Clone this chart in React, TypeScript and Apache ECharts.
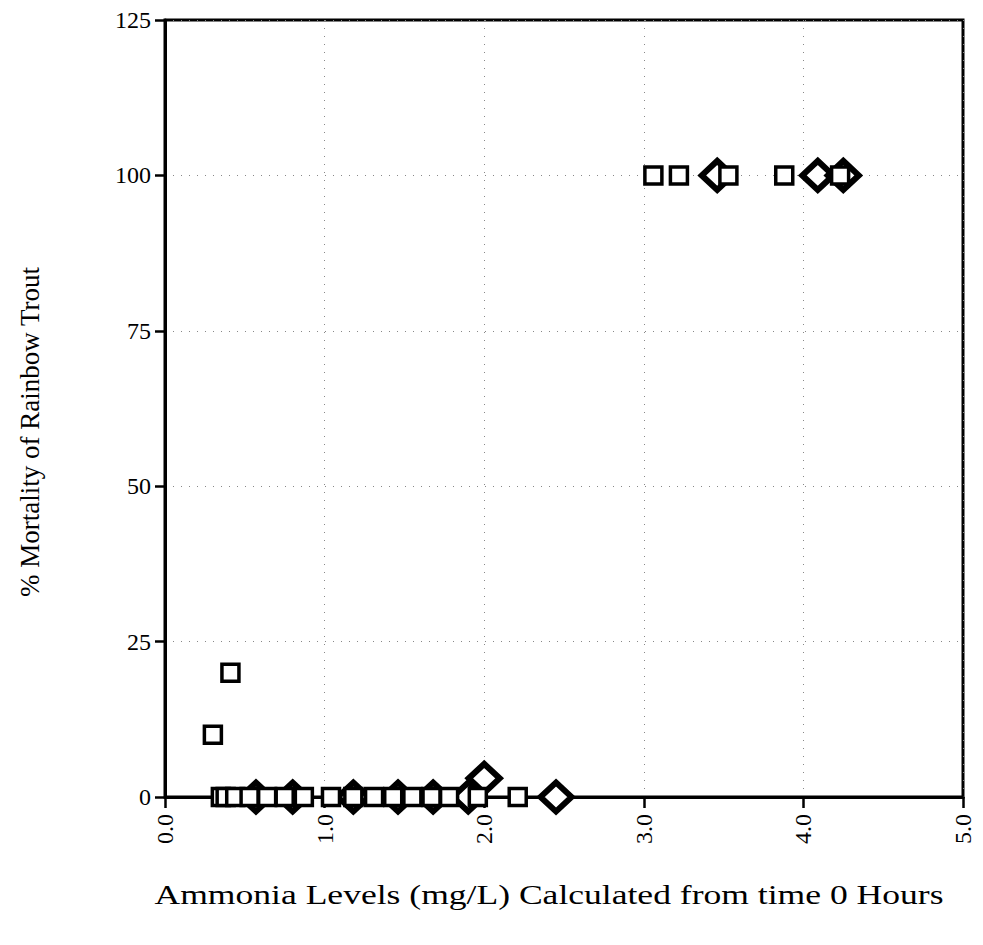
import React, { useEffect, useRef } from "react";
import * as echarts from "echarts";

const xTicks = [0, 1, 2, 3, 4, 5];
const yTicks = [0, 25, 50, 75, 100, 125];

const squareX = [0.30, 0.41, 0.35, 0.38, 0.44, 0.53, 0.64, 0.75, 0.87, 1.04, 1.18, 1.31, 1.43, 1.55, 1.67, 1.78, 1.96, 2.21, 3.06, 3.22, 3.53, 3.88, 4.23];
const squareY = [10, 20, 0, 0, 0, 0, 0, 0, 0, 0, 0, 0, 0, 0, 0, 0, 0, 0, 100, 100, 100, 100, 100];

const diamondX = [0.57, 0.80, 1.18, 1.46, 1.68, 1.90, 2.00, 2.45, 3.46, 4.09, 4.25];
const diamondY = [0, 0, 0, 0, 0, 0, 3, 0, 100, 100, 100];

const xTitle = "Ammonia Levels (mg/L) Calculated from time 0 Hours";
const yTitle = "% Mortality of Rainbow Trout";

const FONT = "Liberation Serif";

export default function App() {
  const ref = useRef<HTMLDivElement>(null);
  useEffect(() => {
    const chart = echarts.init(ref.current!, null, { renderer: "svg" });
    chart.setOption({
      animation: false,
      backgroundColor: "#ffffff",
      grid: {
        left: 157,
        right: 12,
        top: 10,
        bottom: 140,
        show: true,
        borderColor: "#000",
        borderWidth: 3,
        backgroundColor: "transparent",
      },
      graphic: [
        {
          type: "text",
          x: 541,
          y: 886,
          scaleX: 1.27,
          style: {
            text: xTitle,
            font: `28px "${FONT}"`,
            fill: "#000",
            textAlign: "center",
            textVerticalAlign: "middle",
          },
        },
        {
          type: "text",
          x: 22,
          y: 424,
          rotation: Math.PI / 2,
          style: {
            text: yTitle,
            font: `27px "${FONT}"`,
            fill: "#000",
            textAlign: "center",
            textVerticalAlign: "middle",
          },
        },
      ],
      xAxis: {
        type: "value",
        min: xTicks[0],
        max: xTicks[xTicks.length - 1],
        interval: 1,
        axisLine: { show: true, lineStyle: { color: "#000", width: 3 } },
        axisTick: { show: true, length: 11, lineStyle: { color: "#000", width: 2.5 } },
        axisLabel: {
          rotate: 90,
          fontFamily: FONT,
          fontSize: 24,
          color: "#000",
          margin: 17,
          formatter: (v: number) => v.toFixed(1),
        },
        splitLine: { show: true, lineStyle: { color: "#888", width: 1, type: [1, 7] } },
      },
      yAxis: {
        type: "value",
        min: yTicks[0],
        max: yTicks[yTicks.length - 1],
        interval: 25,
        axisLine: { show: true, lineStyle: { color: "#000", width: 3 } },
        axisTick: { show: true, length: 10, lineStyle: { color: "#000", width: 2.5 } },
        axisLabel: { fontFamily: FONT, fontSize: 24, color: "#000", margin: 14 },
        splitLine: { show: true, lineStyle: { color: "#888", width: 1, type: [1, 7] } },
      },
      series: [
        {
          type: "scatter",
          symbol: "diamond",
          symbolSize: [31, 29],
          data: diamondX.map((x, i) => [x, diamondY[i]]),
          itemStyle: { color: "#fff", borderColor: "#000", borderWidth: 6, opacity: 1 },
          clip: false,
        },
        {
          type: "scatter",
          symbol: "rect",
          symbolSize: 17,
          data: squareX.map((x, i) => [x, squareY[i]]),
          itemStyle: { color: "#fff", borderColor: "#000", borderWidth: 3.5, opacity: 1 },
          clip: false,
        },
      ],
    });
    return () => chart.dispose();
  }, []);
  return <div ref={ref} style={{ width: 967, height: 929 }} />;
}
